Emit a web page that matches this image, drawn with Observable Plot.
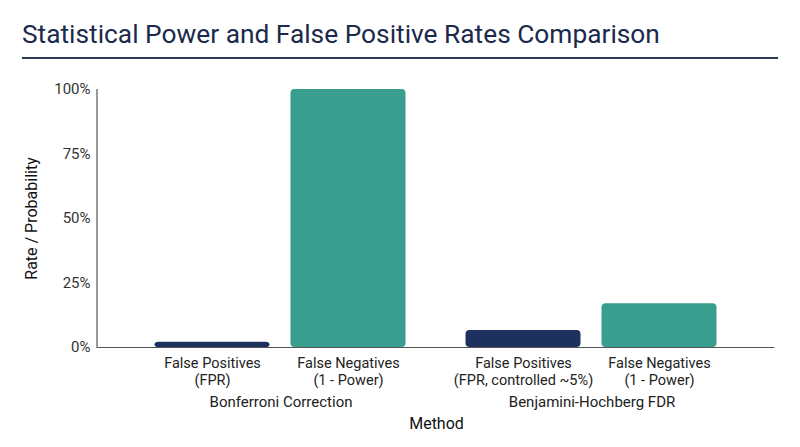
<!DOCTYPE html>
<html>
<head>
<meta charset="utf-8">
<script src="https://cdn.jsdelivr.net/npm/d3@7"></script>
<script src="https://cdn.jsdelivr.net/npm/@observablehq/plot@0.6"></script>
<style>
  html, body { margin: 0; padding: 0; background: #fff; }
  body { width: 800px; height: 447px; overflow: hidden; font-family: Roboto, "Noto Sans", sans-serif; }
  #title {
    margin: 0 22px 0 22px;
    padding: 18px 0 7px 0;
    font-size: 26.3px;
    line-height: 32px;
    font-weight: 400;
    color: #1b2a4a;
    border-bottom: 2px solid #2c3b5c;
    white-space: nowrap;
  }
  #chart svg { display: block; }
</style>
</head>
<body>
<div id="title">Statistical Power and False Positive Rates Comparison</div>
<div id="chart"></div>
<script>
// ---- data ----
const methods = ["Bonferroni Correction", "Benjamini-Hochberg FDR"];
const measures = ["FPR", "FN"];
const bonferroniLabels = ["False Positives\n(FPR)", "False Negatives\n(1 - Power)"];
const bhLabels = ["False Positives\n(FPR, controlled ~5%)", "False Negatives\n(1 - Power)"];
const bonferroniValues = [0.02, 1.0];
const bhValues = [0.066, 0.17];
const yTicks = [0, 0.25, 0.5, 0.75, 1];
const yLabel = "Rate / Probability";
const xLabel = "Method";
const colors = ["#1e305e", "#3a9e8f"];

const rows = [];
measures.forEach((m, i) => {
  rows.push({method: methods[0], measure: m, value: bonferroniValues[i], label: bonferroniLabels[i]});
});
measures.forEach((m, i) => {
  rows.push({method: methods[1], measure: m, value: bhValues[i], label: bhLabels[i]});
});

// ---- layout ----
const W = 800, H = 388;
const mLeft = 124.5, mRight = 53.5, mTop = 30, mBottom = 100;
const facetW = (W - mLeft - mRight) / 2;
const axisExtL = 28.5, axisExtR = 27.5;
const axisColor = "#555";

const chart = Plot.plot({
  width: W,
  height: H,
  marginLeft: mLeft,
  marginRight: mRight,
  marginTop: mTop,
  marginBottom: mBottom,
  style: {fontFamily: "Roboto, sans-serif", fontSize: "15px", color: "#222", background: "#fff"},
  fx: {domain: methods, padding: 0},
  x: {domain: measures, paddingInner: 0.154, paddingOuter: 0.22, axis: null},
  y: {domain: [0, 1]},
  color: {domain: measures, range: colors},
  marks: [
    Plot.axisY({
      ticks: yTicks,
      tickFormat: d3.format(".0%"),
      tickSize: 0,
      tickPadding: 35,
      fontSize: 15,
      fill: "#333",
      label: null
    }),
    Plot.axisFx({
      anchor: "bottom",
      tickSize: 0,
      tickPadding: 49,
      fontSize: 15,
      fill: "#222",
      label: null
    }),
    Plot.barY(rows, {fx: "method", x: "measure", y: "value", fill: "measure", rx: 4}),
    Plot.ruleY([methods[0]], {fx: d => d, y: () => 0, insetLeft: -axisExtL, stroke: axisColor, strokeWidth: 1.2}),
    Plot.ruleY([methods[1]], {fx: d => d, y: () => 0, insetRight: -axisExtR, stroke: axisColor, strokeWidth: 1.2}),
    Plot.ruleX([methods[0]], {fx: d => d, x: null, y1: () => 0, y2: () => 1, dx: -(facetW / 2 + axisExtL), stroke: axisColor, strokeWidth: 1.2}),
    Plot.text(rows, {
      fx: "method", x: "measure", text: "label",
      frameAnchor: "bottom", lineAnchor: "top", dy: 8,
      lineHeight: 1.18, fontSize: 14.5, fill: "#222"
    }),
    // axis titles (restricted to the first facet so they're drawn once)
    Plot.text([yLabel], {
      fx: () => methods[0], text: d => d,
      frameAnchor: "left", textAnchor: "middle", lineAnchor: "middle",
      rotate: -90, dx: -(mLeft - 30.5),
      fontSize: 16, fill: "#111"
    }),
    Plot.text([xLabel], {
      fx: () => methods[0], text: d => d,
      frameAnchor: "bottom-right", textAnchor: "middle", lineAnchor: "middle",
      dy: 76,
      fontSize: 16, fill: "#111"
    })
  ]
});
document.getElementById("chart").appendChild(chart);
</script>
</body>
</html>
